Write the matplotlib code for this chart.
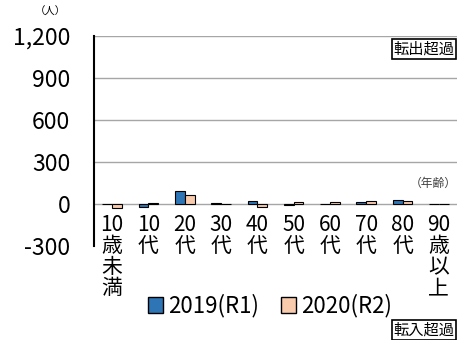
import matplotlib
matplotlib.use("Agg")
import matplotlib.pyplot as plt
import numpy as np
from matplotlib.patches import Patch

plt.rcParams['font.family'] = ['Noto Sans CJK JP', 'DejaVu Sans']

# Data (net migration by age group, persons)
categories = ['10\n歳\n未\n満', '10\n代', '20\n代', '30\n代', '40\n代',
              '50\n代', '60\n代', '70\n代', '80\n代', '90\n歳\n以\n上']
values_2019 = [-3, -20, 90, 5, 20, -10, 3, 15, 30, 3]
values_2020 = [-30, 5, 65, 3, -25, 15, 15, 20, 20, 3]
series_labels = ['2019(R1)', '2020(R2)']
yticks = [-300, 0, 300, 600, 900, 1200]

blue = '#2E75B6'
peach = '#F8CBAD'

fig = plt.figure(figsize=(4.57, 3.4), dpi=100)
ax = fig.add_axes([0.2057, 0.2765, 0.7943, 0.6175])

x = np.arange(len(categories))
w = 0.27
ax.bar(x - w / 2, values_2019, width=w, color=blue, edgecolor='black', linewidth=0.8, zorder=3)
ax.bar(x + w / 2, values_2020, width=w, color=peach, edgecolor='black', linewidth=0.8, zorder=3)

ax.set_xlim(-0.5, len(categories) - 0.5)
ax.set_ylim(-300, 1200)
ax.set_yticks(yticks)
ax.set_yticklabels([f'{v:,}' for v in yticks], fontsize=16.5)
ax.tick_params(axis='y', length=0, pad=17)
ax.set_xticks([])

for v in yticks[1:]:
    ax.axhline(v, color='#A6A6A6', linewidth=1, zorder=1)

for s in ['top', 'right', 'bottom']:
    ax.spines[s].set_visible(False)
ax.spines['left'].set_linewidth(1.5)

# category labels below the zero line
for i, lab in enumerate(categories):
    ax.annotate(lab, (i, 0), xytext=(0, -7), textcoords='offset points',
                ha='center', va='top', fontsize=15, linespacing=0.95,
                annotation_clip=False)

# unit labels
fig.text(0.11, 0.965, '（人）', fontsize=7.5, ha='center', va='center')
ax.text(1.0, 0.30, '（年齢）', transform=ax.transAxes, fontsize=8.5,
        ha='right', va='center', color='#404040')

# boxes
fig.text(0.995, 0.857, '転出超過', fontsize=11, ha='right', va='center',
         bbox=dict(boxstyle='square,pad=0.1', facecolor='white', edgecolor='black', linewidth=1.2))
fig.text(0.995, 0.03, '転入超過', fontsize=11, ha='right', va='center',
         bbox=dict(boxstyle='square,pad=0.1', facecolor='white', edgecolor='black', linewidth=1.2))

handles = [Patch(facecolor=blue, edgecolor='black'), Patch(facecolor=peach, edgecolor='black')]
fig.legend(handles, series_labels, loc='center', bbox_to_anchor=(0.59, 0.1), ncol=2,
           frameon=False, fontsize=16, handlelength=0.7, handleheight=0.7,
           handletextpad=0.2, columnspacing=1.0)

fig.savefig('out.png', dpi=100)
